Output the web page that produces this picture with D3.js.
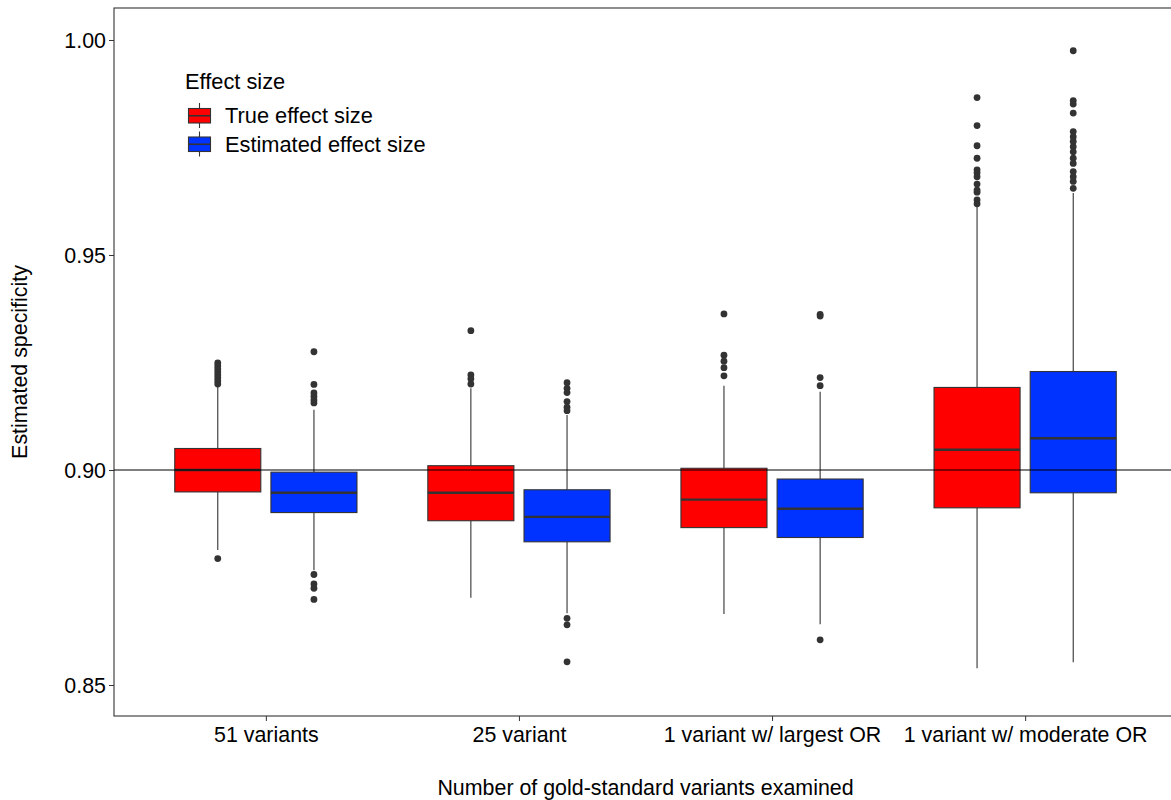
<!DOCTYPE html>
<html>
<head>
<meta charset="utf-8">
<script src="https://cdn.jsdelivr.net/npm/d3@7"></script>
<style>
  body { margin: 0; background: #fff; }
  svg { display: block; font-family: "Liberation Sans", Arial, sans-serif; }
</style>
</head>
<body>
<svg id="chart" width="1171" height="800"></svg>
<script>
// categories on the x axis
var categories = ["51 variants", "25 variant", "1 variant w/ largest OR", "1 variant w/ moderate OR"];
var seriesNames = ["True effect size", "Estimated effect size"];
var seriesColors = ["#ff0000", "#0033ff"];
var yTicks = [0.85, 0.90, 0.95, 1.00];
var refLine = 0.90;

// True effect size (red) box stats, one per category
var trueLower  = [0.8814, 0.8703, 0.8665, 0.8539];
var trueQ1     = [0.8949, 0.8882, 0.8866, 0.8912];
var trueMedian = [0.9000, 0.8947, 0.8931, 0.9047];
var trueQ3     = [0.9050, 0.9010, 0.9004, 0.9192];
var trueUpper  = [0.9194, 0.9190, 0.9196, 0.9612];
var trueOutliers = [
    [0.9249, 0.9242, 0.9235, 0.9228, 0.9221, 0.9214, 0.9207, 0.9200, 0.8794],
    [0.9324, 0.9221, 0.9212, 0.9200],
    [0.9363, 0.9267, 0.9253, 0.9238, 0.9219],
    [0.9866, 0.9801, 0.9754, 0.9725, 0.9698, 0.9691, 0.9682, 0.9665, 0.9651, 0.9646, 0.9628, 0.9619]
];

// Estimated effect size (blue) box stats
var estLower  = [0.8767, 0.8667, 0.8641, 0.8553];
var estQ1     = [0.8901, 0.8833, 0.8843, 0.8947];
var estMedian = [0.8947, 0.8891, 0.8910, 0.9074];
var estQ3     = [0.8995, 0.8954, 0.8979, 0.9229];
var estUpper  = [0.9140, 0.9128, 0.9182, 0.9644];
var estOutliers = [
    [0.9275, 0.9199, 0.9179, 0.9171, 0.9163, 0.9156, 0.8757, 0.8735, 0.8725, 0.8699],
    [0.9203, 0.9190, 0.9180, 0.9159, 0.9146, 0.9138, 0.8655, 0.8640, 0.8554],
    [0.9362, 0.9358, 0.9215, 0.9196, 0.8605],
    [0.9975, 0.9859, 0.9851, 0.9830, 0.9787, 0.9775, 0.9764, 0.9752, 0.9740, 0.9725, 0.9713, 0.9694, 0.9682, 0.9671, 0.9655]
];

function buildBoxes(idx, lower, q1, med, q3, upper, outs) {
    return categories.map(function (c, i) {
        return { cat: c, series: idx, lower: lower[i], q1: q1[i], median: med[i], q3: q3[i], upper: upper[i], outliers: outs[i] };
    });
}

var boxes = buildBoxes(0, trueLower, trueQ1, trueMedian, trueQ3, trueUpper, trueOutliers)
    .concat(buildBoxes(1, estLower, estQ1, estMedian, estQ3, estUpper, estOutliers));

var svg = d3.select("#chart"),
    panel = { left: 114, right: 1177, top: 8, bottom: 716 },
    ink = "#333333",
    fontSize = 21.4,
    legendSize = 21.8;

var x = d3.scalePoint().domain(categories).range([panel.left, panel.right]).padding(0.6);
var y = d3.scaleLinear().domain([0.84279, 1.00744]).range([panel.bottom, panel.top]);

var step = x.step(),
    dodge = 0.19 * step,
    boxW = 0.34 * step;

function cx(d) { return x(d.cat) + (d.series === 0 ? -dodge : dodge); }

// axes
var yAxis = svg.append("g")
    .attr("transform", "translate(" + panel.left + ",0)")
    .call(d3.axisLeft(y).tickValues(yTicks).tickFormat(d3.format(".2f")).tickSizeOuter(0).tickSize(5));
var xAxis = svg.append("g")
    .attr("transform", "translate(0," + panel.bottom + ")")
    .call(d3.axisBottom(x).tickSizeOuter(0).tickSize(5));

[yAxis, xAxis].forEach(function (g) {
    g.select(".domain").remove();
    g.selectAll(".tick line").attr("stroke", ink);
    g.selectAll(".tick text")
        .attr("fill", "#000")
        .style("font-size", fontSize + "px")
        .style("font-family", "Liberation Sans, Arial, sans-serif");
});
yAxis.selectAll(".tick text").attr("x", -8).attr("dy", "0.35em");
xAxis.selectAll(".tick text").attr("y", 11).attr("dy", "0.71em");

// panel border
svg.append("rect")
    .attr("x", panel.left).attr("y", panel.top)
    .attr("width", panel.right - panel.left).attr("height", panel.bottom - panel.top)
    .attr("fill", "none").attr("stroke", ink).attr("stroke-width", 1.1);

var gBox = svg.append("g");
var box = gBox.selectAll("g.box").data(boxes).enter().append("g").attr("class", "box");

// whiskers
box.append("line")
    .attr("x1", cx).attr("x2", cx)
    .attr("y1", function (d) { return y(d.q3); })
    .attr("y2", function (d) { return y(d.upper); })
    .attr("stroke", ink).attr("stroke-width", 1.1);
box.append("line")
    .attr("x1", cx).attr("x2", cx)
    .attr("y1", function (d) { return y(d.q1); })
    .attr("y2", function (d) { return y(d.lower); })
    .attr("stroke", ink).attr("stroke-width", 1.1);

// outlier points
box.selectAll("circle").data(function (d) {
        return d.outliers.map(function (v) { return { x: cx(d), v: v }; });
    }).enter().append("circle")
    .attr("cx", function (p) { return p.x; })
    .attr("cy", function (p) { return y(p.v); })
    .attr("r", 3.4)
    .attr("fill", ink);

// boxes
box.append("rect")
    .attr("x", function (d) { return cx(d) - boxW / 2; })
    .attr("y", function (d) { return y(d.q3); })
    .attr("width", boxW)
    .attr("height", function (d) { return y(d.q1) - y(d.q3); })
    .attr("fill", function (d) { return seriesColors[d.series]; })
    .attr("stroke", ink).attr("stroke-width", 1.1);

// medians
box.append("line")
    .attr("x1", function (d) { return cx(d) - boxW / 2; })
    .attr("x2", function (d) { return cx(d) + boxW / 2; })
    .attr("y1", function (d) { return y(d.median); })
    .attr("y2", function (d) { return y(d.median); })
    .attr("stroke", ink).attr("stroke-width", 2.4);

// reference line at 0.90
svg.append("line")
    .attr("x1", panel.left).attr("x2", panel.right)
    .attr("y1", y(refLine)).attr("y2", y(refLine))
    .attr("stroke", "#000").attr("stroke-width", 1.1);

// axis titles
svg.append("text")
    .attr("x", (panel.left + 1171) / 2 + 3).attr("y", 795)
    .attr("text-anchor", "middle")
    .style("font-size", fontSize + "px")
    .text("Number of gold-standard variants examined");
svg.append("text")
    .attr("transform", "translate(27," + ((panel.top + panel.bottom) / 2) + ") rotate(-90)")
    .attr("text-anchor", "middle")
    .style("font-size", fontSize + "px")
    .text("Estimated specificity");

// legend
var legend = svg.append("g").attr("transform", "translate(185,0)");
legend.append("text")
    .attr("x", 0).attr("y", 89)
    .style("font-size", legendSize + "px")
    .text("Effect size");

var key = legend.selectAll("g.key").data(seriesNames).enter().append("g")
    .attr("class", "key")
    .attr("transform", function (d, i) { return "translate(0," + (102 + i * 28.5) + ")"; });
key.append("line")
    .attr("x1", 14.5).attr("x2", 14.5).attr("y1", 1).attr("y2", 26)
    .attr("stroke", ink).attr("stroke-width", 1.1);
key.append("rect")
    .attr("x", 3.5).attr("y", 6.5).attr("width", 22).attr("height", 14.5)
    .attr("fill", function (d, i) { return seriesColors[i]; })
    .attr("stroke", ink).attr("stroke-width", 1.1);
key.append("line")
    .attr("x1", 3.5).attr("x2", 25.5).attr("y1", 13.75).attr("y2", 13.75)
    .attr("stroke", ink).attr("stroke-width", 1.6);
key.append("text")
    .attr("x", 40).attr("y", 21)
    .style("font-size", legendSize + "px")
    .text(function (d) { return d; });
</script>
</body>
</html>
